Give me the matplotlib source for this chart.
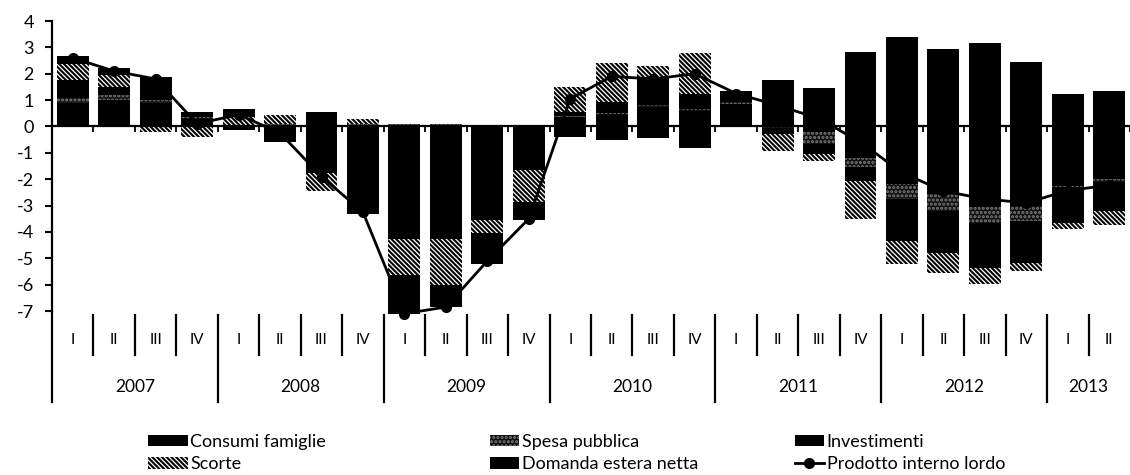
import numpy as np
import matplotlib.pyplot as plt
import matplotlib.transforms as mtransforms
from matplotlib.patches import Patch
from matplotlib.lines import Line2D

plt.rcParams['font.family'] = ['Lato', 'DejaVu Sans']
plt.rcParams['hatch.linewidth'] = 1.5
plt.rcParams['axes.unicode_minus'] = False

# quarters 2007 I - 2013 II
quarters = ['I', 'II', 'III', 'IV'] * 6 + ['I', 'II']
years = ['2007', '2008', '2009', '2010', '2011', '2012', '2013']
year_len = [4, 4, 4, 4, 4, 4, 2]

consumi = [0.88, 1.00, 0.88, 0.30, 0.03, -0.30, -0.60, -1.00,
           -1.60, -1.70, -1.40, -0.70, 0.35, 0.45, 0.75, 0.60,
           0.85, 0.55, -0.20, -1.18, -2.18, -2.55, -3.07, -3.00,
           -2.25, -2.00]
spesa = [0.20, 0.20, 0.12, 0.05, 0.02, 0.10, 0.05, 0.08,
         0.10, 0.08, 0.05, 0.03, 0.05, 0.05, 0.05, 0.05,
         0.07, -0.05, -0.45, -0.37, -0.57, -0.65, -0.58, -0.58,
         -0.05, -0.10]
investimenti = [0.68, 0.30, 0.50, 0.10, -0.15, -0.30, -1.15, -1.50,
                -2.65, -2.55, -2.15, -0.95, 0.13, 0.42, 1.08, 0.60,
                0.15, -0.22, -0.38, -0.50, -1.60, -1.60, -1.70, -1.60,
                -1.35, -1.10]
scorte = [0.60, 0.45, -0.20, -0.40, 0.30, 0.32, -0.70, 0.22,
          -1.40, -1.75, -0.50, -1.20, 0.97, 1.48, 0.42, 1.55,
          0.00, -0.65, -0.27, -1.45, -0.85, -0.75, -0.62, -0.30,
          -0.25, -0.55]
domanda_estera = [0.30, 0.25, 0.37, 0.08, 0.33, 0.00, 0.48, -0.83,
                  -1.45, -0.85, -1.15, -0.70, -0.40, -0.53, -0.42, -0.80,
                  0.28, 1.23, 1.45, 2.83, 3.38, 2.95, 3.15, 2.43,
                  1.25, 1.33]
pil = [2.60, 2.10, 1.80, 0.10, 0.45, -0.25, -1.90, -3.25,
       -7.10, -6.85, -5.10, -3.50, 1.05, 1.90, 1.80, 2.00,
       1.25, 0.80, 0.30, -0.60, -1.75, -2.45, -2.75, -2.90,
       -2.43, -2.23]

names = ['Consumi famiglie', 'Spesa pubblica', 'Investimenti', 'Scorte',
         'Domanda estera netta']
styles = [
    dict(facecolor='black'),
    dict(facecolor='#111111', edgecolor='#7a7a7a', hatch='....'),
    dict(facecolor='black'),
    dict(facecolor='white', edgecolor='black', hatch='\\' * 7),
    dict(facecolor='black'),
]

fig = plt.figure(figsize=(11.3, 4.75), dpi=100)
ax = fig.add_axes([52 / 1130, 1 - 311 / 475, 1078 / 1130, 290 / 475])

n = len(quarters)
x = np.arange(n)
pos_base = np.zeros(n)
neg_base = np.zeros(n)
for vals, st in zip([consumi, spesa, investimenti, scorte, domanda_estera], styles):
    v = np.array(vals)
    bottom = np.where(v >= 0, pos_base, neg_base)
    ax.bar(x, v, bottom=bottom, width=0.77, linewidth=0, zorder=2,
           clip_on=False, **st)
    pos_base += np.clip(v, 0, None)
    neg_base += np.clip(v, None, 0)

ax.plot(x, pil, color='black', lw=2, marker='o', ms=7, zorder=4, clip_on=False)

xmax = -0.5 + 1078 / 41.7
ax.set_xlim(-0.5, xmax)
ax.set_ylim(-7, 4)
ax.set_yticks(range(-7, 5))
ax.tick_params(axis='y', direction='out', length=5, width=1.5, labelsize=13, pad=8)

for s in ['top', 'right']:
    ax.spines[s].set_visible(False)
ax.spines['left'].set_linewidth(1.6)
ax.spines['bottom'].set_position(('data', 0))
ax.spines['bottom'].set_linewidth(1.6)
ax.set_xticks(np.arange(-0.5, n, 1))
ax.set_xticklabels([])
ax.tick_params(axis='x', direction='out', length=4, width=1.3)

# multi-level category axis below the plot
trans = mtransforms.blended_transform_factory(ax.transData, ax.transAxes)
for i, q in enumerate(quarters):
    ax.text(i, -0.10, q, transform=trans, ha='center', va='center', fontsize=11)

starts = np.cumsum([0] + year_len[:-1])
for yr, s0, ln in zip(years, starts, year_len):
    ax.text(s0 + (ln - 1) / 2, -0.262, yr, transform=trans, ha='center',
            va='center', fontsize=12.5)

for b in range(n + 1):
    xb = b - 0.5
    if xb > xmax:
        continue
    if b in starts:
        y0, y1 = (0 if b == 0 else -0.015), -0.314
    else:
        y0, y1 = -0.015, -0.152
    ax.plot([xb, xb], [y0, y1], transform=trans, color='black', lw=1.6,
            clip_on=False)

# legend in three columns
h = [Patch(linewidth=0, **st) for st in styles]
h_pil = Line2D([], [], color='black', lw=2, marker='o', ms=7)
cols = [([h[0], h[3]], [names[0], names[3]], 148, 2.2),
        ([h[1], h[4]], [names[1], names[4]], 490, 1.6),
        ([h[2], h_pil], [names[2], 'Prodotto interno lordo'], 795, 1.6)]
for hs, ls, px, hl in cols:
    fig.legend(hs, ls, loc='upper left', bbox_to_anchor=(px / 1130, 1 - 434 / 475),
               frameon=False, fontsize=13, handlelength=hl, handleheight=0.6,
               handletextpad=0.15, labelspacing=0.35, borderpad=0, borderaxespad=0)

fig.savefig('out.png', dpi=100)
